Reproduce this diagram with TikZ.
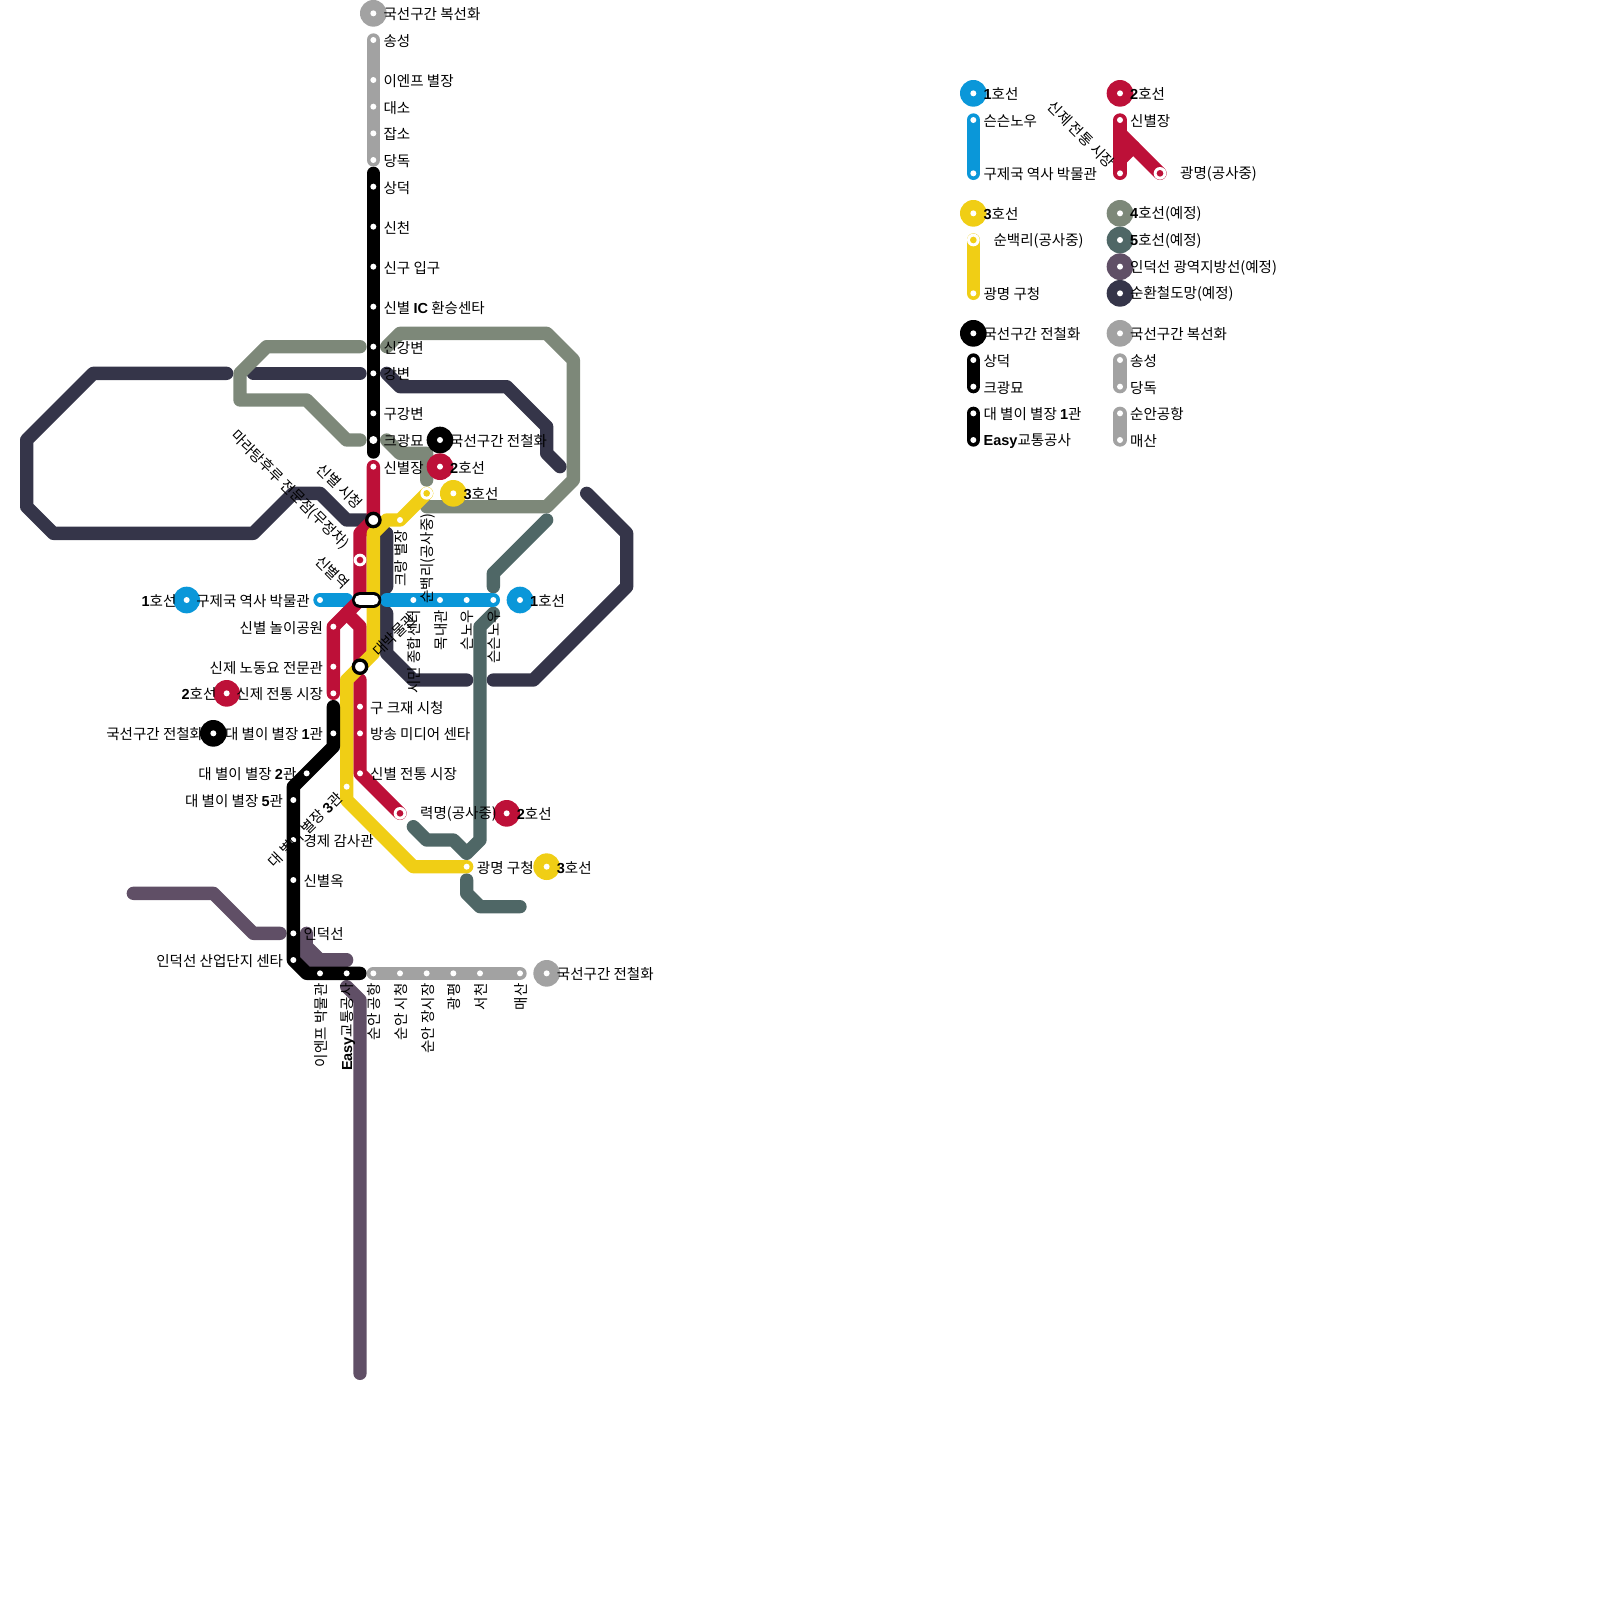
\documentclass[tikz,border=0pt]{standalone}
\usepackage{fontspec}
\setmainfont{Noto Sans CJK KR}
\newfontfamily\latnfont{Liberation Sans}
\usetikzlibrary{positioning}
\definecolor{lineblue}{HTML}{0A97D9}
\definecolor{linered}{HTML}{BD1038}
\definecolor{lineyellow}{HTML}{F0CE15}
\definecolor{linegrey}{HTML}{A2A2A2}
\definecolor{linesage}{HTML}{7D8879}
\definecolor{lineteal}{HTML}{4F6766}
\definecolor{lineplum}{HTML}{604F66}
\definecolor{linenavy}{HTML}{353549}
\newcommand{\bn}[1]{{\latnfont\bfseries #1}}
\tikzset{
  metro/.style={line width=0.4cm, line cap=round, line join=round, draw=#1},
  stopdot/.style={circle, fill=white, inner sep=0pt, minimum size=0.18cm},
  workdot/.style={circle, fill=white, inner sep=0pt, minimum size=0.38cm},
  workfill/.style={circle, fill=#1, inner sep=0pt, minimum size=0.2cm},
  xferdot/.style={circle, draw=black, fill=white, line width=0.1cm, inner sep=0pt, minimum size=0.4cm},
  lineball/.style={circle, fill=#1, inner sep=0pt, minimum size=0.8cm},
  lbl/.style={inner sep=0pt, font=\fontsize{12.4}{14}\selectfont},
  lblright/.style={lbl, anchor=west, xshift=0.3cm, yshift=-0.03cm},
  lblfar/.style={lbl, anchor=west, xshift=0.6cm, yshift=-0.03cm},
  lblleft/.style={lbl, anchor=east, xshift=-0.3cm, yshift=-0.03cm},
  lblup/.style={lbl, anchor=east, xshift=0.03cm, yshift=-0.3cm, rotate=90},
  lblupfar/.style={lbl, anchor=east, xshift=0.03cm, yshift=-0.6cm, rotate=90},
  lblcross/.style={lbl, anchor=east, xshift=-0.4cm, yshift=0.4cm, rotate=-45},
  lblcrossnear/.style={lbl, anchor=east, xshift=-0.24cm, yshift=0.24cm, rotate=-45},
  lblclimb/.style={lbl, anchor=west, xshift=0.46cm, yshift=0.38cm, rotate=45},
  lblsink/.style={lbl, anchor=east, xshift=-0.2cm, yshift=-0.25cm, rotate=45},
}
\begin{document}
\begin{tikzpicture}[x=0.4cm,y=-0.4cm]
\useasboundingbox (0,0) rectangle (120,120);

\coordinate (songseong) at (28,3);
\coordinate (ienpe) at (28,6);
\coordinate (daeso) at (28,8);
\coordinate (japso) at (28,10);
\coordinate (dangdok) at (28,12);
\coordinate (sangdeok) at (28,14);
\coordinate (sincheon) at (28,17);
\coordinate (singu) at (28,20);
\coordinate (sinic) at (28,23);
\coordinate (singang) at (28,26);
\coordinate (gangbyeon) at (28,28);
\coordinate (gugang) at (28,31);
\coordinate (keugwang) at (28,33);
\coordinate (sinjang) at (28,35);
\coordinate (sicheong) at (28,39);
\coordinate (malatang) at (27,42);
\coordinate (sinyeok) at (27,45);
\coordinate (nori) at (25,47);
\coordinate (nodong) at (25,50);
\coordinate (jeontong) at (25,52);
\coordinate (daebak) at (27,50);
\coordinate (keujae) at (27,53);
\coordinate (bangsong) at (27,55);
\coordinate (sinsijang) at (27,58);
\coordinate (ryeokmyeong) at (30,61);
\coordinate (sunbaek) at (32,37);
\coordinate (keurang) at (30,39);
\coordinate (gwanthree) at (26,59);
\coordinate (gucheong) at (35,65);
\coordinate (gwanone) at (25,55);
\coordinate (gwantwo) at (23,58);
\coordinate (gwanfive) at (22,60);
\coordinate (gyeongje) at (22,63);
\coordinate (sinok) at (22,66);
\coordinate (indeok) at (22,70);
\coordinate (sandan) at (22,72);
\coordinate (ienmuseum) at (24,73);
\coordinate (easy) at (26,73);
\coordinate (airport) at (28,73);
\coordinate (ansi) at (30,73);
\coordinate (market) at (32,73);
\coordinate (gwangpyeong) at (34,73);
\coordinate (seocheon) at (36,73);
\coordinate (maesan) at (39,73);
\coordinate (museum) at (24,45);
\coordinate (jonghap) at (31,45);
\coordinate (mongnae) at (33,45);
\coordinate (seuno) at (35,45);
\coordinate (seuseuno) at (37,45);

\draw[metro=linenavy] (17,28) -- (7,28) -- (2,33) -- (2,38) -- (4,40) -- (19,40) -- (22,37) -- (24,37) -- (26,39) -- (sicheong);
\draw[metro=linenavy] (19,28) -- (27,28);
\draw[metro=linenavy] (29,28) -- (30,29) -- (38,29) -- (41,32) -- (41,34) -- (42,35);
\draw[metro=linenavy] (29,40) -- (29,44) -- (28,45) -- (29,46) -- (29,49) -- (31,51) -- (35,51);
\draw[metro=linenavy] (37,51) -- (40,51) -- (47,44) -- (47,40) -- (44,37);

\draw[metro=linesage] (27,26) -- (20,26) -- (18,28) -- (18,30) -- (23,30) -- (26,33) -- (27,33);
\draw[metro=linesage] (29,26) -- (30,25) -- (41,25) -- (43,27) -- (43,36) -- (41,38) -- (32,38);
\draw[metro=linesage] (29,33) -- (30,34) -- (32,34) -- (32,36);

\draw[metro=lineteal] (41,39) -- (37,43) -- (37,44);
\draw[metro=lineteal] (31,62) -- (32,63) -- (34,63) -- (35,64) -- (36,63) -- (36,47) -- (37,46);
\draw[metro=lineteal] (35,66) -- (35,67) -- (36,68) -- (39,68);

\draw[metro=lineplum] (10,67) -- (16,67) -- (19,70) -- (21,70);
\draw[metro=lineplum] (23,70) -- (23,72) -- (26,72);
\draw[metro=lineplum] (23,71) -- (24,72);
\draw[metro=lineplum] (26,74) -- (27,75) -- (27,103);

\draw[metro=lineblue] (museum) -- (26,45);
\draw[metro=lineblue] (29,45) -- (seuseuno);

\draw[metro=linered] (sinjang) -- (28,39) -- (27,40) -- (27,45) -- (nori) -- (jeontong);
\draw[metro=linered] (26,46) -- (27,47) -- (daebak);
\draw[metro=linered] (27,51) -- (sinsijang) -- (ryeokmyeong);

\draw[metro=lineyellow] (sunbaek) -- (keurang) -- (29,39) -- (28,40) -- (28,49) -- (26,51) -- (26,60) -- (31,65) -- (gucheong);

\draw[metro=black] (28,13) -- (28,33.9);
\draw[metro=black] (25,53) -- (25,56) -- (22,59) -- (sandan) -- (23,73) -- (27,73);
\draw[metro=linegrey] (songseong) -- (dangdok);
\draw[metro=linegrey] (airport) -- (maesan);

\draw[black, line width=0.48cm, line cap=round] (27,45) -- (28,45);
\draw[white, line width=0.32cm, line cap=round] (27,45) -- (28,45);
\foreach \s in {sicheong,daebak}
  \node[xferdot] (xfer-\s) at (\s) {};
\node[stopdot, minimum size=0.24cm] (xfer-keugwang) at (keugwang) {};

\foreach \c/\x/\y in {linegrey/28/1,black/33/33,linered/33/35,lineyellow/34/37,lineblue/39/45,lineblue/14/45,linered/17/52,black/16/55,linered/38/61,lineyellow/41/65,linegrey/41/73}
  \node[lineball=\c] (ball-\x-\y) at (\x,\y) {};
\foreach \x/\y in {28/1,33/33,33/35,34/37,39/45,14/45,17/52,16/55,38/61,41/65,41/73}
  \node[stopdot] (ballstop-\x-\y) at (\x,\y) {};

\foreach \s in {songseong,ienpe,daeso,japso,dangdok,sangdeok,sincheon,singu,sinic,singang,gangbyeon,gugang,sinjang,nori,nodong,jeontong,keujae,bangsong,sinsijang,keurang,gwanthree,gucheong,gwanone,gwantwo,gwanfive,gyeongje,sinok,indeok,sandan,ienmuseum,easy,airport,ansi,market,gwangpyeong,seocheon,maesan,museum,jonghap,mongnae,seuno,seuseuno}
  \node[stopdot] (stop-\s) at (\s) {};
\foreach \s/\c in {malatang/linered,ryeokmyeong/linered,sunbaek/lineyellow}{
  \node[workdot] (work-\s) at (\s) {};
  \node[workfill=\c] (workfill-\s) at (\s) {};
}

\foreach \s/\t in {songseong/송성,ienpe/{이엔프 별장},daeso/대소,japso/잡소,dangdok/당독,sangdeok/상덕,sincheon/신천,singu/{신구 입구},sinic/{신별 \bn{IC} 환승센타},singang/신강변,gangbyeon/강변,gugang/구강변,keugwang/크광묘,sinjang/신별장,keujae/{구 크재 시청},bangsong/{방송 미디어 센타},sinsijang/{신별 전통 시장},gucheong/{광명 구청},gyeongje/{경제 감사관},sinok/신별옥,indeok/인덕선}
  \node[lblright] (lbl-\s) at (\s) {\t};
\node[lblfar] (lbl-ryeokmyeong) at (ryeokmyeong) {력명(공사중)};
\foreach \s/\t in {museum/{구제국 역사 박물관},nori/{신별 놀이공원},nodong/{신제 노동요 전문관},jeontong/{신제 전통 시장},gwanone/{대 별이 별장 \bn{1}관},gwantwo/{대 별이 별장 \bn{2}관},gwanfive/{대 별이 별장 \bn{5}관},sandan/{인덕선 산업단지 센타}}
  \node[lblleft] (lbl-\s) at (\s) {\t};
\foreach \s/\t in {ienmuseum/{이엔프 박물관},easy/{\bn{Easy}교통공사},airport/{순안 공항},ansi/{순안 시청},market/{순안 장시장},gwangpyeong/광평,seocheon/서천,maesan/매산,jonghap/{시민 종합센터},mongnae/목내관,seuno/슨노우,seuseuno/슨슨노우,keurang/{크랑 별장}}
  \node[lblup] (lbl-\s) at (\s) {\t};
\node[lblupfar] (lbl-sunbaek) at (sunbaek) {순백리(공사중)};
\foreach \s/\t in {sicheong/{신별 시청},malatang/{마라탕후루 전문점(무정차)},sinyeok/신별역}
  \node[lblcross] (lbl-\s) at (\s) {\t};
\node[lblclimb] (lbl-daebak) at (daebak) {대박물관};
\node[lblsink] (lbl-gwanthree) at (gwanthree) {대 별이 별장 \bn{3}관};

\foreach \x/\y/\t in {28/1/{국선구간 복선화},33/33/{국선구간 전철화},33/35/{\bn{2}호선},34/37/{\bn{3}호선},39/45/{\bn{1}호선},38/61/{\bn{2}호선},41/65/{\bn{3}호선},41/73/{국선구간 전철화}}
  \node[lblright] (balllbl-\x-\y) at (\x,\y) {\t};
\foreach \x/\y/\t in {14/45/{\bn{1}호선},17/52/{\bn{2}호선},16/55/{국선구간 전철화}}
  \node[lblleft] (balllbl-\x-\y) at (\x,\y) {\t};

\draw[metro=lineblue] (73,9) -- (73,13);
\draw[metro=linered] (84,9) -- (84,13);
\draw[metro=linered] (84,10) -- (87,13);
\draw[metro=linered] (85,11) -- (84,12);
\draw[metro=lineyellow] (73,18) -- (73,22);
\draw[metro=black] (73,27) -- (73,29);
\draw[metro=black] (73,31) -- (73,33);
\draw[metro=linegrey] (84,27) -- (84,29);
\draw[metro=linegrey] (84,31) -- (84,33);

\foreach \c/\x/\y in {lineblue/73/7,linered/84/7,lineyellow/73/16,linesage/84/16,lineteal/84/18,lineplum/84/20,linenavy/84/22,black/73/25,linegrey/84/25}
  \node[lineball=\c] (ball-\x-\y) at (\x,\y) {};
\foreach \x/\y in {73/7,84/7,73/16,84/16,84/18,84/20,84/22,73/25,84/25,73/9,73/13,84/9,84/13,73/22,73/27,73/29,73/31,73/33,84/27,84/29,84/31,84/33}
  \node[stopdot] (keystop-\x-\y) at (\x,\y) {};
\foreach \x/\y/\c in {87/13/linered,73/18/lineyellow}{
  \node[workdot] (keywork-\x-\y) at (\x,\y) {};
  \node[workfill=\c] (keyfill-\x-\y) at (\x,\y) {};
}

\foreach \x/\y/\t in {73/7/{\bn{1}호선},73/9/슨슨노우,73/13/{구제국 역사 박물관},84/7/{\bn{2}호선},84/9/신별장,73/16/{\bn{3}호선},73/22/{광명 구청},84/16/{\bn{4}호선(예정)},84/18/{\bn{5}호선(예정)},84/20/{인덕선 광역지방선(예정)},84/22/{순환철도망(예정)},73/25/{국선구간 전철화},73/27/상덕,73/29/크광묘,73/31/{대 별이 별장 \bn{1}관},73/33/{\bn{Easy}교통공사},84/25/{국선구간 복선화},84/27/송성,84/29/당독,84/31/순안공항,84/33/매산}
  \node[lblright] (keylbl-\x-\y) at (\x,\y) {\t};
\node[lblfar] (keylbl-87-13) at (87,13) {광명(공사중)};
\node[lblfar] (keylbl-73-18) at (73,18) {순백리(공사중)};
\node[lblcrossnear] (keylbl-84-13) at (84,13) {신제 전통 시장};
\end{tikzpicture}
\end{document}
